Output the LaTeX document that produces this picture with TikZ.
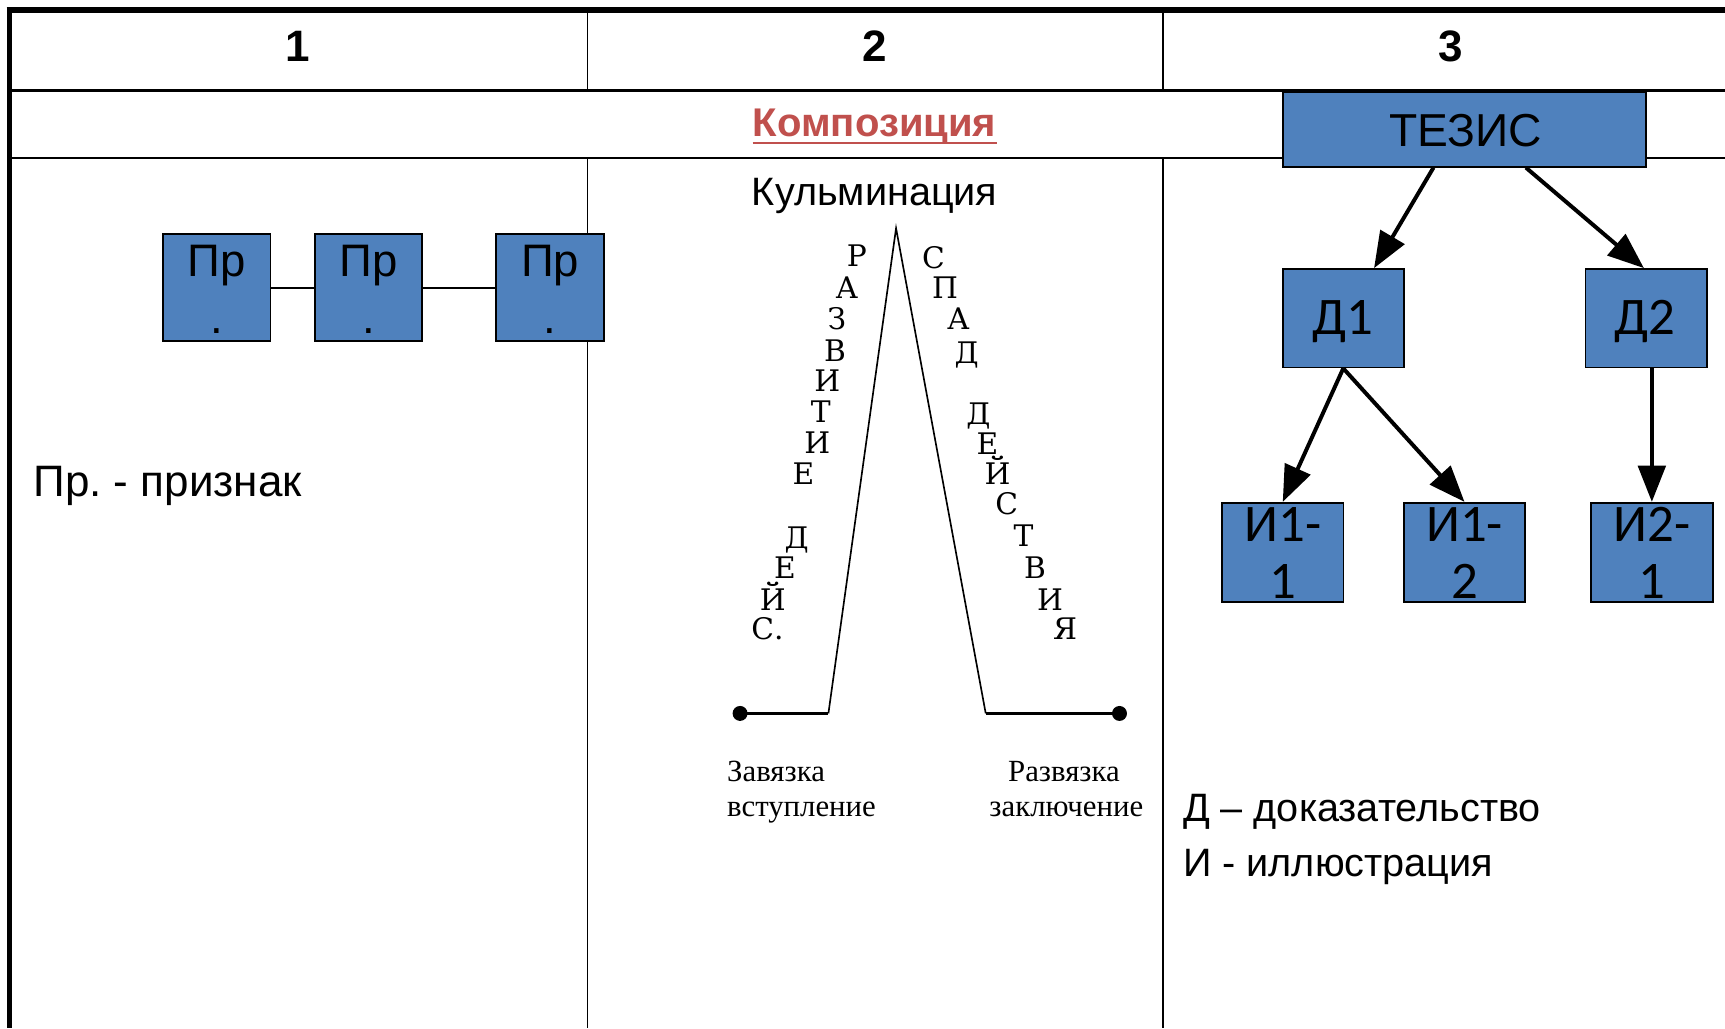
\documentclass[tikz,border=0pt]{standalone}
\usepackage{fontspec}
\setmainfont{Liberation Sans}
\newfontfamily\calfont{Carlito}
\newfontfamily\timesfont{Liberation Serif}
\newfontfamily\slabfont{DejaVu Serif}
\usetikzlibrary{arrows.meta,calc}
\definecolor{boxblue}{HTML}{4F81BD}
\definecolor{komred}{HTML}{C0504D}
\frenchspacing
\begin{document}
\begin{tikzpicture}[x=0.5pt,y=-0.5pt,
  thin/.style={black, line width=0.75pt},
  rowline/.style={black, line width=1.25pt},
  bluebox/.style={draw=black, fill=boxblue, line width=0.8pt, inner sep=0pt},
  atxt/.style={inner sep=0pt, anchor=base, font=\fontsize{20.7}{24}\selectfont},
  ctxt/.style={inner sep=0pt, anchor=base, font=\calfont\fontsize{24}{28}\selectfont},
  ltr/.style={inner sep=0pt, anchor=base, font=\slabfont\fontsize{13.5}{16}\selectfont},
  ttxt/.style={inner sep=0pt, anchor=base west, font=\timesfont\fontsize{14}{16}\selectfont},
  dotnode/.style={circle, fill=black, inner sep=0pt, minimum size=6.8pt},
  arr/.style={-{Triangle[length=16.5pt,width=12.5pt]}, line width=1.8pt}
]
\useasboundingbox (0,0) rectangle (1568,934.5);
% table
\draw[black, line width=2.75pt] (6,9) -- (1568,9);
\draw[black, line width=2pt] (8.7,7) -- (8.7,934.5);
\draw[rowline] (10,82.5) -- (1568,82.5);
\draw[rowline] (10,143.6) -- (1568,143.6);
\draw[thin] (534,10) -- (534,82.5);
\draw[thin] (1057,10) -- (1057,82.5);
\draw[thin] (534,143.6) -- (534,934.5);
\draw[thin] (1057,143.6) -- (1057,934.5);
% header
\node[inner sep=0pt, anchor=base, font=\fontsize{20}{24}\selectfont\bfseries] (h1) at (271,56) {1};
\node[inner sep=0pt, anchor=base, font=\fontsize{20}{24}\selectfont\bfseries] (h2) at (795,56) {2};
\node[inner sep=0pt, anchor=base, font=\fontsize{20}{24}\selectfont\bfseries] (h3) at (1319,56) {3};
\node[inner sep=0pt, anchor=base, text=komred, font=\fontsize{18.2}{20}\selectfont\bfseries] (komp) at (795,124.2) {Композиция};
\draw[komred, line width=1.3pt] ([yshift=-2.9pt]komp.base west) -- ([yshift=-2.9pt]komp.base east);
% column 1
\node[bluebox, minimum width=48.7pt, minimum height=48.5pt] (p1) at (197.2,261.5) {};
\node[bluebox, minimum width=48.7pt, minimum height=48.5pt] (p2) at (334.8,261.5) {};
\node[bluebox, minimum width=49pt, minimum height=48.5pt] (p3) at (500,261.5) {};
\draw[thin] (p1) -- (p2);
\draw[thin] (p2) -- (p3);
\node[atxt] (p1a) at (197.2,251) {Пр};
\node[atxt] (p1b) at (197.2,303) {.};
\node[atxt] (p2a) at (334.8,251) {Пр};
\node[atxt] (p2b) at (334.8,303) {.};
\node[atxt] (p3a) at (500,251) {Пр};
\node[atxt] (p3b) at (500,303) {.};
\node[inner sep=0pt, anchor=base west, font=\fontsize{20}{24}\selectfont] (prz) at (30,451.5) {Пр. - признак};
% column 2
\node[inner sep=0pt, anchor=base, font=\fontsize{18}{20}\selectfont] (kulm) at (795,186.4) {Кульминация};
\coordinate (peak) at (814.5,207.5);
\coordinate (bl) at (753,648.5);
\coordinate (br) at (896,648.5);
\node[dotnode] (dl) at (672.7,648.5) {};
\node[dotnode] (dr) at (1017.6,648.5) {};
\draw[black, line width=0.75pt] (bl) -- (peak) -- (br);
\draw[black, line width=1.5pt] (dl.center) -- (bl);
\draw[black, line width=1.5pt] (br) -- (dr.center);
\foreach \t/\x/\y [count=\i] in {Р/778.8/233.3, А/769.7/262.1, З/760.6/290.9, В/759.1/319.7, И/752.1/347.0, Т/746.1/375.2, И/743.0/403.0, Е/730.3/431.8, Д/724.2/489.4, Е/713.6/516.7, Й/702.4/545.5}
  \node[ltr] (l\i) at (\x,\y+9) {\t};
\node[ltr, anchor=base west] (l12) at (682.5,581.7) {С.};
\foreach \t/\x/\y [count=\i] in {С/848.5/234.8, П/859.1/262.1, А/871.2/290.9, Д/878.8/321.2, Д/889.4/377.3, Е/897.6/404.5, Й/906.7/431.8, С/915.2/459.1, Т/930.3/487.9, В/940.9/516.7, И/954.5/545.5, Я/968.2/572.7}
  \node[ltr] (r\i) at (\x,\y+9) {\t};
\node[ttxt] (zav) at (660.6,710.6) {Завязка};
\node[ttxt] (vst) at (660.6,742.4) {вступление};
\node[ttxt] (razv) at (916,710.6) {Развязка};
\node[ttxt] (zakl) at (899,742.4) {заключение};
% column 3
\node[bluebox, minimum width=165pt, minimum height=33.75pt] (tezis) at (1331,117.8) {};
\node[inner sep=0pt, anchor=base, font=\fontsize{21}{24}\selectfont] (tezist) at (1332,133.3) {ТЕЗИС};
\node[bluebox, minimum width=55pt, minimum height=44.75pt] (d1) at (1221,289.3) {};
\node[bluebox, minimum width=55.2pt, minimum height=44.75pt] (d2) at (1496.3,289.3) {};
\node[bluebox, minimum width=55.3pt, minimum height=45pt] (i11) at (1166,502) {};
\node[bluebox, minimum width=55.3pt, minimum height=45pt] (i12) at (1331.2,502) {};
\node[bluebox, minimum width=55.3pt, minimum height=45pt] (i21) at (1501.5,502) {};
\node[ctxt] (d1t) at (1221,304.5) {Д1};
\node[ctxt] (d2t) at (1495,304.5) {Д2};
\node[ctxt] (i11a) at (1166,492.4) {И1-};
\node[ctxt] (i11b) at (1166,544) {1};
\node[ctxt] (i12a) at (1331.2,492.4) {И1-};
\node[ctxt] (i12b) at (1331.2,544) {2};
\node[ctxt] (i21a) at (1501.5,492.4) {И2-};
\node[ctxt] (i21b) at (1501.5,544) {1};
\draw[arr] ([xshift=-14pt]tezis.south) -- ([xshift=14pt]d1.north);
\draw[arr] ([xshift=28pt]tezis.south) -- ([xshift=-1pt]d2.north);
\draw[arr] (d1.south) -- (i11.north);
\draw[arr] (d1.south) -- (i12.north);
\draw[arr] ([xshift=2.6pt]d2.south) -- (i21.north);
\node[inner sep=0pt, anchor=base west, font=\fontsize{18}{20}\selectfont] (legd) at (1075,747) {Д – доказательство};
\node[inner sep=0pt, anchor=base west, font=\fontsize{18}{20}\selectfont] (legi) at (1075,797) {И - иллюстрация};
\end{tikzpicture}
\end{document}
